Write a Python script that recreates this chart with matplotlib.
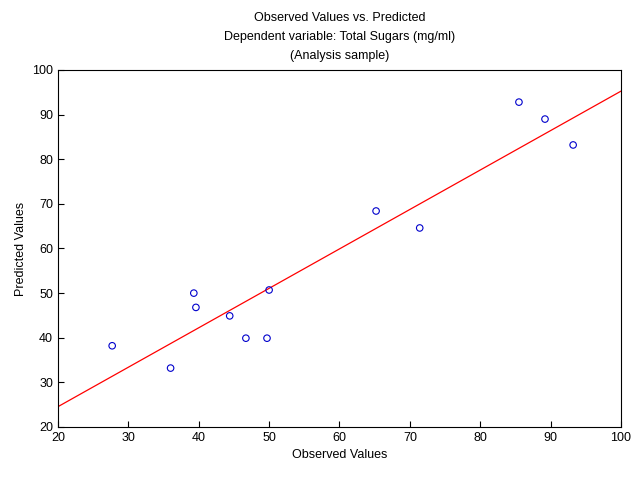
import numpy as np
import matplotlib.pyplot as plt

plt.rcParams['font.family'] = ['Liberation Sans', 'DejaVu Sans']

observed = [27.7, 36.0, 39.3, 39.6, 44.4, 46.7, 49.7, 50.0, 65.2, 71.4, 85.5, 89.2, 93.2]
predicted = [38.2, 33.2, 50.0, 46.8, 44.9, 39.9, 39.9, 50.7, 68.4, 64.6, 92.8, 89.0, 83.2]

fig = plt.figure(figsize=(6.4, 4.78), dpi=100)
ax = fig.add_axes([0.0906, 0.1067, 0.8797, 0.7469])

ax.scatter(observed, predicted, s=22, facecolors='none', edgecolors='#0000cc', linewidths=0.8, zorder=3)

slope, intercept = np.polyfit(observed, predicted, 1)
xs = np.array([20, 100])
ax.plot(xs, slope * xs + intercept, color='red', linewidth=0.9)

ax.set_xlim(20, 100)
ax.set_ylim(20, 100)
ax.set_xticks(range(20, 101, 10))
ax.set_yticks(range(20, 101, 10))
ax.tick_params(labelsize=9, direction='in', length=4)
ax.set_xlabel('Observed Values', fontsize=9)
ax.set_ylabel('Predicted Values', fontsize=9)
ax.set_title('Observed Values vs. Predicted\nDependent variable: Total Sugars (mg/ml)\n(Analysis sample)',
             fontsize=9, linespacing=1.75, pad=8)

fig.savefig('out.png', dpi=100)
